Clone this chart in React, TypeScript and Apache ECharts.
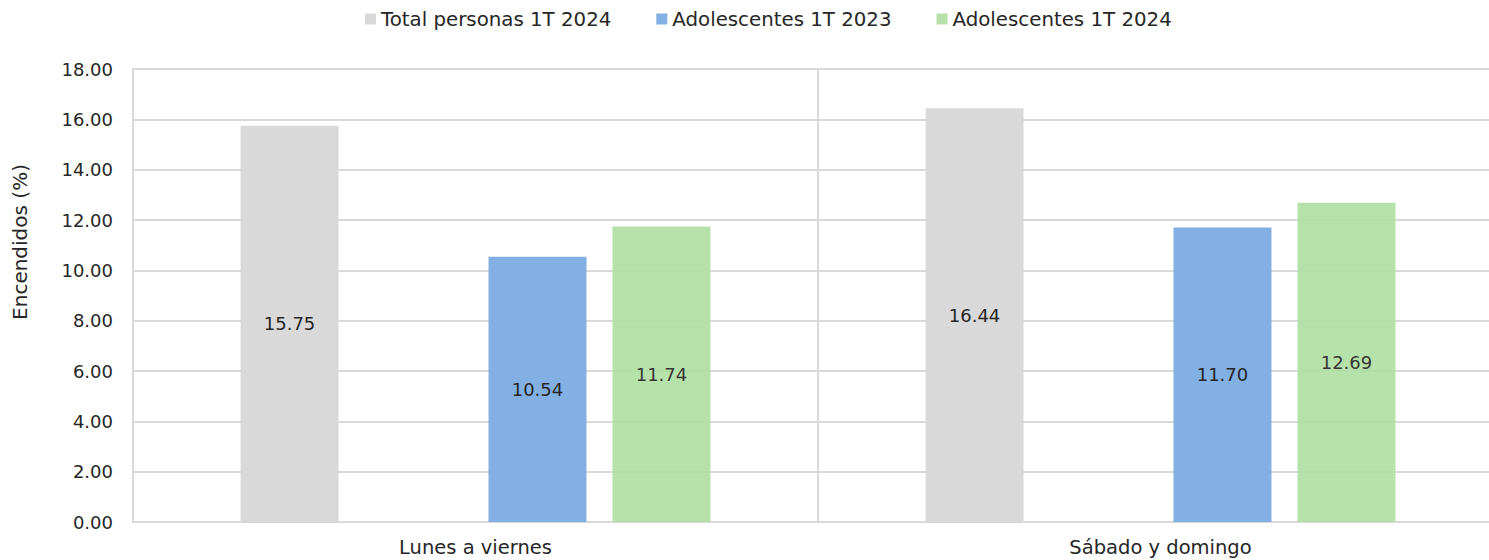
import React, { useEffect, useRef } from "react";
import * as echarts from "echarts";

const categories = ["Lunes a viernes", "Sábado y domingo"];
const seriesNames = ["Total personas 1T 2024", "Adolescentes 1T 2023", "Adolescentes 1T 2024"];
const totalPersonas2024 = [15.75, 16.44];
const adolescentes2023 = [10.54, 11.7];
const adolescentes2024 = [11.74, 12.69];
const emptySlot: (number | null)[] = [null, null];
const yTicks = { min: 0, max: 18, interval: 2 };
const yTitle = "Encendidos (%)";

const FONT = "DejaVu Sans";
const TXT = "#262626";

export default function App() {
  const ref = useRef<HTMLDivElement>(null);
  useEffect(() => {
    if (!ref.current) return;
    const chart = echarts.init(ref.current, undefined, { renderer: "svg" });
    const label = {
      show: true,
      position: "inside",
      color: TXT,
      fontFamily: FONT,
      fontSize: 18,
      formatter: (p: any) => Number(p.value).toFixed(2),
    };
    const bar = (name: string, data: (number | null)[], color: string, opacity = 1) => ({
      name,
      type: "bar",
      data,
      barWidth: 98,
      barGap: "26.5%",
      itemStyle: { color, opacity },
      label,
    });
    chart.setOption({
      animation: false,
      textStyle: { fontFamily: FONT },
      legend: {
        data: seriesNames,
        left: 360,
        top: 4,
        itemWidth: 11,
        itemHeight: 11,
        itemGap: 45,
        icon: "rect",
        textStyle: { color: TXT, fontSize: 19.8, fontFamily: FONT },
      },
      grid: {
        left: 133,
        width: 1370,
        top: 69,
        height: 453,
        containLabel: false,
        outerBoundsMode: "none",
      },
      xAxis: {
        type: "category",
        data: categories,
        axisLine: { show: true, lineStyle: { color: "#d9d9d9", width: 2 } },
        axisTick: { show: false },
        splitLine: { show: true, lineStyle: { color: "#d9d9d9", width: 2 } },
        axisLabel: { color: TXT, fontSize: 19.5, fontFamily: FONT, margin: 15 },
      },
      yAxis: {
        type: "value",
        min: yTicks.min,
        max: yTicks.max,
        interval: yTicks.interval,
        axisLine: { show: true, lineStyle: { color: "#d9d9d9", width: 2 } },
        axisTick: { show: false },
        splitLine: { show: true, lineStyle: { color: "#d9d9d9", width: 2 } },
        axisLabel: {
          color: TXT,
          fontSize: 18,
          fontFamily: FONT,
          margin: 20,
          formatter: (v: number) => v.toFixed(2),
        },
      },
      graphic: [
        {
          type: "text",
          x: 20,
          y: 242,
          rotation: Math.PI / 2,
          style: {
            text: yTitle,
            fill: TXT,
            fontSize: 20,
            fontFamily: FONT,
            align: "center",
            verticalAlign: "middle",
          },
        },
      ],
      series: [
        bar(seriesNames[0], totalPersonas2024, "#d9d9d9"),
        { ...bar("", emptySlot, "#ffffff"), label: { show: false } },
        bar(seriesNames[1], adolescentes2023, "#82b0e3"),
        bar(seriesNames[2], adolescentes2024, "#b1dea3", 0.92),
      ],
    });
    return () => chart.dispose();
  }, []);
  return (
    <div
      ref={ref}
      style={{ position: "fixed", left: 0, top: 0, width: 1489, height: 560, background: "#fff" }}
    />
  );
}
